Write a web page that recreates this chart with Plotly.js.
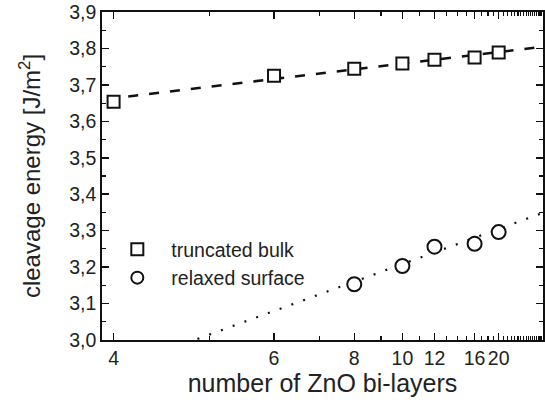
<!DOCTYPE html>
<html>
<head>
<meta charset="utf-8">
<script src="https://cdn.plot.ly/plotly-3.0.1.min.js"></script>
<style>
  html, body { margin: 0; padding: 0; background: #fff; }
  #chart { width: 545px; height: 403px; }
</style>
</head>
<body>
<div id="chart"></div>
<script>
// ---- data ----
const bilayers = [4, 6, 8, 10, 12, 16, 20];
const truncatedBulk = [3.654, 3.725, 3.744, 3.759, 3.769, 3.775, 3.789];
const relaxedBilayers = [8, 10, 12, 16, 20];
const relaxedSurface = [3.153, 3.203, 3.256, 3.264, 3.296];
// fit lines (end values)
const fitBilayers = [3.5, 60];
const bulkFit = [3.641, 3.811];
const relaxedFit = [2.850, 3.369];
// axis ticks
const majorTickN = [4, 6, 8, 10, 12, 16, 20];
const majorTickText = ['4', '6', '8', '10', '12', '16', '20'];
const minorTickN = [5, 7, 9, 11, 13, 14, 15, 17, 18, 19, 21, 22, 23, 24, 25, 26, 27, 28, 29, 30, 31, 32, 33, 34, 35, 36, 37, 38, 39, 40];
const xRangeN = [3.906, 37.08];

const inv = a => a.map(n => 1 / n);
const FONT = 'Liberation Sans, Arial, sans-serif';

const traces = [
  {
    x: inv(fitBilayers), y: bulkFit, mode: 'lines', showlegend: false, hoverinfo: 'skip',
    line: { color: '#111', width: 2.5, dash: '10px,11px' }
  },
  {
    x: inv(fitBilayers), y: relaxedFit, mode: 'lines', showlegend: false, hoverinfo: 'skip',
    line: { color: '#111', width: 2.2, dash: '2px,10.5px' }
  },
  {
    x: inv(bilayers), y: truncatedBulk, mode: 'markers', name: 'truncated bulk',
    marker: { symbol: 'square', size: 12, color: '#fff', line: { color: '#111', width: 2 } }
  },
  {
    x: inv(relaxedBilayers), y: relaxedSurface, mode: 'markers', name: 'relaxed surface',
    marker: { symbol: 'circle', size: 14, color: '#fff', line: { color: '#111', width: 2 } }
  }
];

const layout = {
  width: 545, height: 403,
  margin: { l: 102, r: 2, t: 12, b: 63 },
  paper_bgcolor: '#fff', plot_bgcolor: '#fff',
  separators: ',.',
  font: { family: FONT, color: '#222', size: 19 },
  showlegend: true,
  legend: {
    x: 0.003, y: 0.335, xanchor: 'left', yanchor: 'top',
    bgcolor: 'rgba(0,0,0,0)', font: { family: FONT, size: 19.5, color: '#222' },
    itemsizing: 'constant', itemwidth: 58
  },
  xaxis: {
    range: inv(xRangeN),
    tickmode: 'array', tickvals: inv(majorTickN), ticktext: majorTickText,
    ticks: 'inside', ticklen: 7, tickwidth: 1.5, tickcolor: '#111',
    minor: { tickmode: 'array', tickvals: inv(minorTickN), ticks: 'inside', ticklen: 4, tickwidth: 1.2, tickcolor: '#111', showgrid: false },
    showline: true, linecolor: '#111', linewidth: 1.8, mirror: 'ticks',
    showgrid: false, zeroline: false,
    tickfont: { family: FONT, size: 19.5, color: '#222' },
    title: { text: 'number of ZnO bi-layers', font: { family: FONT, size: 25, color: '#222' }, standoff: 6 }
  },
  yaxis: {
    range: [3.0, 3.9],
    tickmode: 'linear', tick0: 3.0, dtick: 0.1, tickformat: '.1f',
    ticks: 'inside', ticklen: 7, tickwidth: 1.5, tickcolor: '#111',
    minor: { dtick: 0.05, ticks: 'inside', ticklen: 4, tickwidth: 1.2, tickcolor: '#111', showgrid: false },
    showline: true, linecolor: '#111', linewidth: 1.8, mirror: 'ticks',
    showgrid: false, zeroline: false,
    tickfont: { family: FONT, size: 19.5, color: '#222' },
    title: { text: 'cleavage energy [J/m<sup>2</sup>]', font: { family: FONT, size: 24, color: '#222' }, standoff: 22 }
  }
};

Plotly.newPlot('chart', traces, layout, { displayModeBar: false, staticPlot: true });
</script>
</body>
</html>
